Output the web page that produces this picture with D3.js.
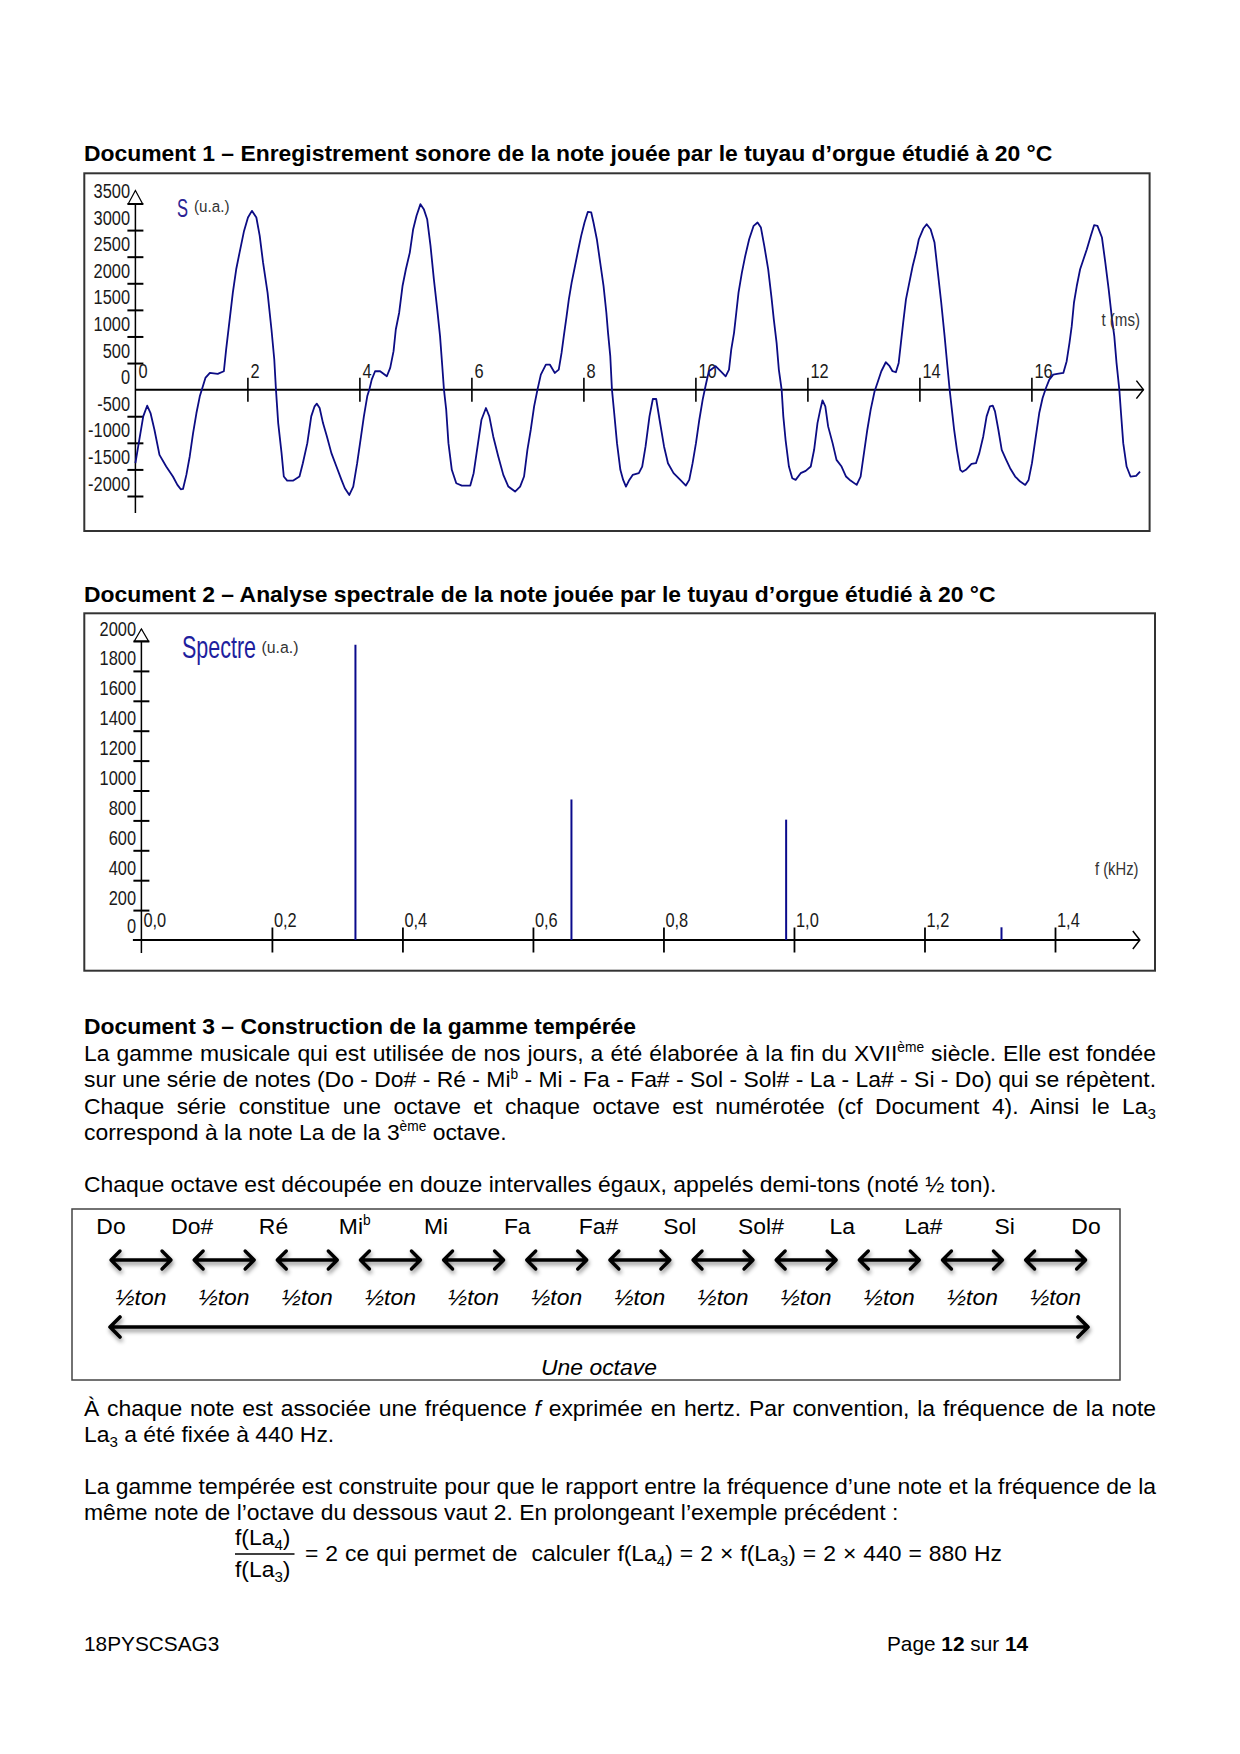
<!DOCTYPE html>
<html><head><meta charset="utf-8">
<script src="https://cdn.jsdelivr.net/npm/d3@7"></script>
<style>
html,body{margin:0;padding:0;background:#fff;}
svg{display:block;}
text{font-family:"Liberation Sans",Arial,Helvetica,sans-serif;}
</style></head><body>
<script>
// ---------------- DATA ----------------
// Document 1 : signal S (u.a.) vs t (ms)
const signalPoints = [[0.00,-1383],[0.08,-880],[0.14,-503],[0.21,-302],[0.27,-440],[0.34,-754],[0.43,-1226],[0.55,-1446],[0.67,-1634],[0.75,-1791],[0.81,-1873],[0.85,-1867],[0.91,-1603],[0.97,-1257],[1.03,-817],[1.09,-440],[1.15,-126],[1.19,13],[1.25,220],[1.33,314],[1.47,295],[1.58,346],[1.62,754],[1.68,1288],[1.74,1823],[1.80,2263],[1.86,2577],[1.94,2985],[2.01,3237],[2.08,3362],[2.16,3237],[2.22,2891],[2.28,2388],[2.36,1823],[2.43,1131],[2.48,566],[2.51,0],[2.55,-629],[2.61,-1194],[2.65,-1634],[2.71,-1710],[2.82,-1710],[2.93,-1634],[2.99,-1383],[3.07,-1006],[3.14,-503],[3.20,-314],[3.24,-264],[3.29,-346],[3.35,-629],[3.42,-880],[3.50,-1194],[3.59,-1446],[3.68,-1697],[3.74,-1854],[3.82,-1980],[3.89,-1823],[3.96,-1383],[4.02,-943],[4.08,-503],[4.14,-126],[4.18,13],[4.22,189],[4.28,346],[4.37,346],[4.49,251],[4.55,409],[4.61,723],[4.65,1131],[4.71,1446],[4.77,1948],[4.83,2263],[4.90,2577],[4.96,3017],[5.02,3268],[5.09,3488],[5.15,3394],[5.21,3205],[5.27,2703],[5.33,2074],[5.39,1508],[5.44,1006],[5.48,440],[5.51,0],[5.55,-377],[5.59,-1006],[5.65,-1508],[5.73,-1760],[5.83,-1804],[5.98,-1804],[6.04,-1571],[6.11,-1068],[6.18,-566],[6.26,-346],[6.32,-503],[6.39,-880],[6.48,-1257],[6.57,-1603],[6.66,-1823],[6.78,-1917],[6.87,-1823],[6.94,-1634],[7.00,-1131],[7.06,-754],[7.12,-314],[7.18,0],[7.24,283],[7.33,471],[7.40,471],[7.49,314],[7.56,377],[7.61,691],[7.65,1006],[7.70,1383],[7.74,1697],[7.79,2011],[7.85,2325],[7.91,2640],[7.96,2891],[8.02,3143],[8.08,3344],[8.14,3331],[8.18,3143],[8.24,2828],[8.30,2388],[8.36,1948],[8.41,1446],[8.44,1068],[8.48,629],[8.51,0],[8.55,-440],[8.60,-1006],[8.66,-1508],[8.71,-1697],[8.76,-1823],[8.82,-1697],[8.88,-1603],[8.99,-1571],[9.05,-1446],[9.11,-1068],[9.18,-503],[9.24,-176],[9.30,-176],[9.36,-566],[9.44,-1068],[9.51,-1383],[9.61,-1571],[9.73,-1697],[9.83,-1804],[9.89,-1697],[9.95,-1383],[10.01,-1006],[10.07,-566],[10.13,-189],[10.18,63],[10.24,346],[10.36,440],[10.45,346],[10.54,251],[10.60,377],[10.64,754],[10.69,1068],[10.73,1446],[10.77,1823],[10.83,2200],[10.89,2514],[10.96,2828],[11.04,3080],[11.11,3143],[11.17,3048],[11.23,2703],[11.30,2263],[11.36,1720],[11.40,1320],[11.45,880],[11.49,377],[11.54,0],[11.57,-503],[11.61,-943],[11.67,-1446],[11.73,-1666],[11.79,-1697],[11.88,-1571],[11.97,-1527],[12.06,-1446],[12.12,-1131],[12.18,-629],[12.23,-377],[12.27,-201],[12.32,-314],[12.37,-691],[12.45,-1006],[12.52,-1320],[12.61,-1446],[12.69,-1634],[12.77,-1710],[12.88,-1791],[12.95,-1634],[13.01,-1194],[13.07,-754],[13.13,-377],[13.20,-31],[13.25,126],[13.32,346],[13.40,515],[13.46,453],[13.52,346],[13.58,327],[13.63,503],[13.67,880],[13.71,1257],[13.76,1697],[13.82,2011],[13.88,2325],[13.94,2577],[13.99,2828],[14.07,3029],[14.13,3111],[14.20,3017],[14.27,2765],[14.33,2200],[14.39,1634],[14.45,1006],[14.50,440],[14.54,0],[14.58,-377],[14.62,-754],[14.67,-1131],[14.73,-1508],[14.77,-1545],[14.83,-1508],[14.93,-1395],[15.01,-1383],[15.07,-1194],[15.14,-880],[15.20,-503],[15.26,-314],[15.31,-302],[15.35,-409],[15.41,-754],[15.47,-1131],[15.55,-1320],[15.62,-1477],[15.71,-1634],[15.80,-1728],[15.89,-1791],[15.95,-1697],[16.01,-1383],[16.07,-943],[16.14,-440],[16.20,-157],[16.26,31],[16.32,189],[16.39,283],[16.46,295],[16.57,314],[16.63,534],[16.68,880],[16.72,1194],[16.76,1634],[16.81,1948],[16.87,2263],[16.93,2451],[16.99,2640],[17.06,2891],[17.12,3092],[17.18,3080],[17.26,2860],[17.32,2388],[17.38,1886],[17.44,1320],[17.48,1006],[17.52,503],[17.57,0],[17.60,-440],[17.64,-1006],[17.70,-1446],[17.77,-1634],[17.87,-1622],[17.94,-1540]];
const signalYTicks = [3500,3000,2500,2000,1500,1000,500,0,-500,-1000,-1500,-2000];
const signalTTicks = [0,2,4,6,8,10,12,14,16];

// Document 2 : spectrum
const spectrumFreq = [0.328, 0.659, 0.988, 1.318];   // kHz
const spectrumAmp  = [1975, 940, 805, 85];          // u.a.
const spectrumYTicks = [0,200,400,600,800,1000,1200,1400,1600,1800,2000];
const spectrumFTicks = [0,0.2,0.4,0.6,0.8,1.0,1.2,1.4];

// Document 3 : gamme
const notes = ["Do","Do#","Ré","Mi^b","Mi","Fa","Fa#","Sol","Sol#","La","La#","Si","Do"];
const intervals = ["½ton","½ton","½ton","½ton","½ton","½ton","½ton","½ton","½ton","½ton","½ton","½ton"];

// ---------------- DRAWING ----------------
const W = 1240, H = 1754;
const svg = d3.select("body").append("svg").attr("width", W).attr("height", H);
const defs = svg.append("defs");
const f = defs.append("filter").attr("id","sh").attr("x","-20%").attr("y","-80%").attr("width","140%").attr("height","300%");
f.append("feDropShadow").attr("dx",1).attr("dy",3).attr("stdDeviation",2).attr("flood-color","#000").attr("flood-opacity",0.45);

const FS = 22.9;
const LBL = "#1a1a1a";

function rich(g, x, y, segs, o = {}) {
  const fs = o.fs || FS;
  const t = g.append("text").attr("x", x).attr("y", y).attr("font-size", fs).style("white-space", "pre").attr("fill", "#000");
  if (o.anchor) t.attr("text-anchor", o.anchor);
  if (o.weight) t.attr("font-weight", o.weight);
  if (o.italic) t.attr("font-style", "italic");
  let shift = 0;
  segs.forEach(s => {
    let str = s, kind = "n";
    if (Array.isArray(s)) { str = s[0]; kind = s[1]; }
    let target = 0, size = fs;
    if (kind === "sup") { target = -0.38 * fs; size = 0.6 * fs; }
    if (kind === "sub") { target = 0.22 * fs; size = 0.66 * fs; }
    const ts = t.append("tspan").text(str);
    if (target - shift !== 0) ts.attr("dy", target - shift);
    if (size !== fs) ts.attr("font-size", size);
    if (kind === "i") ts.attr("font-style", "italic");
    if (kind === "b") ts.attr("font-weight", "bold");
    shift = target;
  });
  if (o.justify) {
    const len = t.node().getComputedTextLength();
    const n = segs.map(s => Array.isArray(s) ? s[0] : s).join("").split(" ").length - 1;
    if (n > 0) t.style("word-spacing", ((o.justify - x) - len) / n + "px");
  }
  return t;
}

// narrow chart label helper (bitmap-like condensed font)
function chartLabel(g, x, y, str, fs, anchor, fill, sx = 0.8) {
  return g.append("text").attr("transform", `translate(${x},${y}) scale(${sx},1)`)
    .attr("font-size", fs).attr("text-anchor", anchor).attr("fill", fill).text(str);
}
// label squeezed horizontally to a target width
function fitText(g, x, y, str, fs, targetW, fill) {
  const t = g.append("text").attr("font-size", fs).attr("fill", fill).text(str);
  const len = t.node().getComputedTextLength();
  t.attr("transform", `translate(${x},${y}) scale(${targetW / len},1)`);
  return t;
}

// ===== Titles =====
rich(svg, 84, 160.5, ["Document 1 – Enregistrement sonore de la note jouée par le tuyau d’orgue étudié à 20 °C"], {weight: "bold"});
rich(svg, 84, 602, ["Document 2 – Analyse spectrale de la note jouée par le tuyau d’orgue étudié à 20 °C"], {weight: "bold"});

// ===== Document 1 chart =====
{
  const g = svg.append("g");
  g.append("rect").attr("x", 84.3).attr("y", 173.3).attr("width", 1065.3).attr("height", 357.7)
    .attr("fill", "none").attr("stroke", "#333").attr("stroke-width", 2);
  const x = d3.scaleLinear().domain([0, 18]).range([135.4, 1143.4]);
  const y = d3.scaleLinear().domain([-2000, 3500]).range([496, 203.5]);
  const ax = x(0), ay = y(0), top = y(d3.max(signalYTicks));
  g.append("line").attr("x1", ax).attr("x2", ax).attr("y1", top - 12).attr("y2", y(-2000) + 17).attr("stroke", "#000").attr("stroke-width", 1.5);
  g.append("path").attr("d", `M${ax-7},${top}L${ax},${top-13}L${ax+7},${top}Z`).attr("fill", "#fff").attr("stroke", "#000").attr("stroke-width", 1.2);
  const gy = g.append("g").attr("transform", `translate(${ax + 8},0)`)
    .call(d3.axisLeft(y).tickValues(signalYTicks).tickSize(16).tickFormat(d => String(d)));
  gy.select(".domain").remove();
  gy.selectAll(".tick line").attr("stroke", "#000").attr("stroke-width", 2).filter(d => d === 0).remove();
  gy.selectAll(".tick text").remove();
  signalYTicks.forEach(v => chartLabel(g, ax - 5.4, y(v) - 5.5, String(v), 20.5, "end", LBL));
  g.append("line").attr("x1", ax).attr("x2", x(18)).attr("y1", ay).attr("y2", ay).attr("stroke", "#000").attr("stroke-width", 2);
  g.append("path").attr("d", `M${x(18)-7},${ay-9}L${x(18)},${ay}L${x(18)-7},${ay+9}`).attr("fill", "none").attr("stroke", "#000").attr("stroke-width", 1.5);
  const gx = g.append("g").attr("transform", `translate(0,${ay - 12})`)
    .call(d3.axisBottom(x).tickValues(signalTTicks).tickSize(24).tickFormat(d => String(d)));
  gx.select(".domain").remove();
  gx.selectAll(".tick line").attr("stroke", "#000").attr("stroke-width", 1.6).filter(d => d === 0).remove();
  gx.selectAll(".tick text").remove();
  signalTTicks.forEach(t => chartLabel(g, x(t) + 3, ay - 12, String(t), 20.5, "start", LBL));
  g.append("path").datum(signalPoints)
    .attr("d", d3.line().x(d => x(d[0])).y(d => y(d[1])))
    .attr("fill", "none").attr("stroke", "#0c0c84").attr("stroke-width", 1.8).attr("stroke-linejoin", "round");
  fitText(g, 177, 216.5, "S", 26, 11, "#2b2394");
  fitText(g, 194, 212, "(u.a.)", 17, 35.5, "#333");
  fitText(g, 1101.5, 326, "t (ms)", 19, 38.5, "#333");
}

// ===== Document 2 chart =====
{
  const g = svg.append("g");
  g.append("rect").attr("x", 84.3).attr("y", 613.3).attr("width", 1070.7).attr("height", 357.4)
    .attr("fill", "none").attr("stroke", "#333").attr("stroke-width", 2);
  const x = d3.scaleLinear().domain([0, 1.4]).range([141.4, 1055]);
  const y = d3.scaleLinear().domain([0, 2000]).range([940, 641]);
  const ax = x(0), ay = y(0), top = y(2000);
  g.append("line").attr("x1", ax).attr("x2", ax).attr("y1", top - 12).attr("y2", ay + 13).attr("stroke", "#000").attr("stroke-width", 1.5);
  g.append("path").attr("d", `M${ax-7},${top}L${ax},${top-12}L${ax+7},${top}Z`).attr("fill", "#fff").attr("stroke", "#000").attr("stroke-width", 1.2);
  const gy = g.append("g").attr("transform", `translate(${ax + 8},0)`)
    .call(d3.axisLeft(y).tickValues(spectrumYTicks).tickSize(16).tickFormat(d => String(d)));
  gy.select(".domain").remove();
  gy.selectAll(".tick line").attr("stroke", "#000").attr("stroke-width", 2).filter(d => d === 0).remove();
  gy.selectAll(".tick text").remove();
  spectrumYTicks.forEach(v => chartLabel(g, ax - 5.4, y(v) - (v === 0 ? 7 : 5.5), String(v), 20.5, "end", LBL));
  const xEnd = x(1.53);
  g.append("line").attr("x1", ax - 8.5).attr("x2", xEnd).attr("y1", ay).attr("y2", ay).attr("stroke", "#000").attr("stroke-width", 2);
  g.append("path").attr("d", `M${xEnd-7},${ay-9}L${xEnd},${ay}L${xEnd-7},${ay+9}`).attr("fill", "none").attr("stroke", "#000").attr("stroke-width", 1.5);
  const gx = g.append("g").attr("transform", `translate(0,${ay - 12.5})`)
    .call(d3.axisBottom(x).tickValues(spectrumFTicks).tickSize(25).tickFormat(d => d.toFixed(1).replace(".", ",")));
  gx.select(".domain").remove();
  gx.selectAll(".tick line").attr("stroke", "#000").attr("stroke-width", 1.8).filter(d => d === 0).remove();
  gx.selectAll(".tick text").remove();
  spectrumFTicks.forEach(v => chartLabel(g, x(v) + 2, ay - 13, v.toFixed(1).replace(".", ","), 20.5, "start", LBL));
  g.selectAll("line.spec").data(spectrumFreq.map((fq, i) => [fq, spectrumAmp[i]])).join("line").attr("class", "spec")
    .attr("x1", d => x(d[0])).attr("x2", d => x(d[0])).attr("y1", ay).attr("y2", d => y(d[1]))
    .attr("stroke", "#0a0a8c").attr("stroke-width", 2);
  fitText(g, 182, 658, "Spectre", 31, 74, "#1e1e9e");
  fitText(g, 261.5, 653, "(u.a.)", 17, 37, "#333");
  fitText(g, 1095, 875, "f (kHz)", 19, 43.5, "#333");
}

// ===== Document 3 text =====
const RIGHT = 1156;
rich(svg, 84, 1034, ["Document 3 – Construction de la gamme tempérée"], {weight: "bold"});
rich(svg, 84, 1061, ["La gamme musicale qui est utilisée de nos jours, a été élaborée à la fin du XVII", ["ème", "sup"], " siècle. Elle est fondée"], {justify: RIGHT});
rich(svg, 84, 1087.3, ["sur une série de notes (Do - Do# - Ré - Mi", ["b", "sup"], " - Mi - Fa - Fa# - Sol - Sol# - La - La# - Si - Do) qui se répètent."], {justify: RIGHT});
rich(svg, 84, 1113.6, ["Chaque série constitue une octave et chaque octave est numérotée (cf Document 4). Ainsi le La", ["3", "sub"]], {justify: RIGHT});
rich(svg, 84, 1139.9, ["correspond à la note La de la 3", ["ème", "sup"], " octave."]);
rich(svg, 84, 1192, ["Chaque octave est découpée en douze intervalles égaux, appelés demi-tons (noté ½ ton)."]);

// ===== Gamme diagram =====
{
  const g = svg.append("g");
  g.append("rect").attr("x", 72).attr("y", 1209).attr("width", 1048).attr("height", 171)
    .attr("fill", "none").attr("stroke", "#444").attr("stroke-width", 1.5);
  const xn = d3.scalePoint().domain(d3.range(notes.length)).range([111, 1086]);
  const xi = d3.scalePoint().domain(d3.range(intervals.length)).range([141, 1055.6]);
  notes.forEach((n, i) => {
    const parts = n.split("^");
    const segs = parts.length > 1 ? [parts[0], [parts[1], "sup"]] : [parts[0]];
    rich(g, xn(i), 1234, segs, {anchor: "middle"});
  });
  const arrow = (xa, xb, yy, h, sw) => g.append("path")
    .attr("d", `M${xa+1},${yy}H${xb-1}M${xa+h},${yy-h}L${xa},${yy}L${xa+h},${yy+h}M${xb-h},${yy-h}L${xb},${yy}L${xb-h},${yy+h}`)
    .attr("fill", "none").attr("stroke", "#000").attr("stroke-width", sw)
    .attr("stroke-linecap", "round").attr("stroke-linejoin", "round").attr("filter", "url(#sh)");
  intervals.forEach((s, i) => {
    arrow(xi(i) - 30, xi(i) + 30, 1260, 9, 3.4);
    rich(g, xi(i), 1305, [s], {anchor: "middle", italic: true});
  });
  arrow(xn(0) - 1, xn(notes.length - 1) + 2, 1327, 10, 3.6);
  rich(g, (xn(0) + xn(notes.length - 1)) / 2 + 0.5, 1375, ["Une octave"], {anchor: "middle", italic: true});
}

// ===== After table =====
rich(svg, 84, 1415.5, ["À chaque note est associée une fréquence ", ["f", "i"], " exprimée en hertz. Par convention, la fréquence de la note"], {justify: RIGHT});
rich(svg, 84, 1441.5, ["La", ["3", "sub"], " a été fixée à 440 Hz."]);
rich(svg, 84, 1493.5, ["La gamme tempérée est construite pour que le rapport entre la fréquence d’une note et la fréquence de la"], {justify: RIGHT});
rich(svg, 84, 1519.5, ["même note de l’octave du dessous vaut 2. En prolongeant l’exemple précédent :"]);
rich(svg, 235, 1545, ["f(La", ["4", "sub"], ")"]);
svg.append("line").attr("x1", 235).attr("x2", 294.5).attr("y1", 1554).attr("y2", 1554).attr("stroke", "#000").attr("stroke-width", 1.3);
rich(svg, 235, 1577, ["f(La", ["3", "sub"], ")"]);
rich(svg, 305, 1561, ["= 2 ce qui permet de  calculer f(La", ["4", "sub"], ") = 2 × f(La", ["3", "sub"], ") = 2 × 440 = 880 Hz"], {justify: 1002});

// ===== Footer =====
rich(svg, 84, 1651, ["18PYSCSAG3"], {fs: 20.8});
rich(svg, 887, 1651, ["Page ", ["12", "b"], " sur ", ["14", "b"]], {fs: 20.8});
</script>
</body></html>
